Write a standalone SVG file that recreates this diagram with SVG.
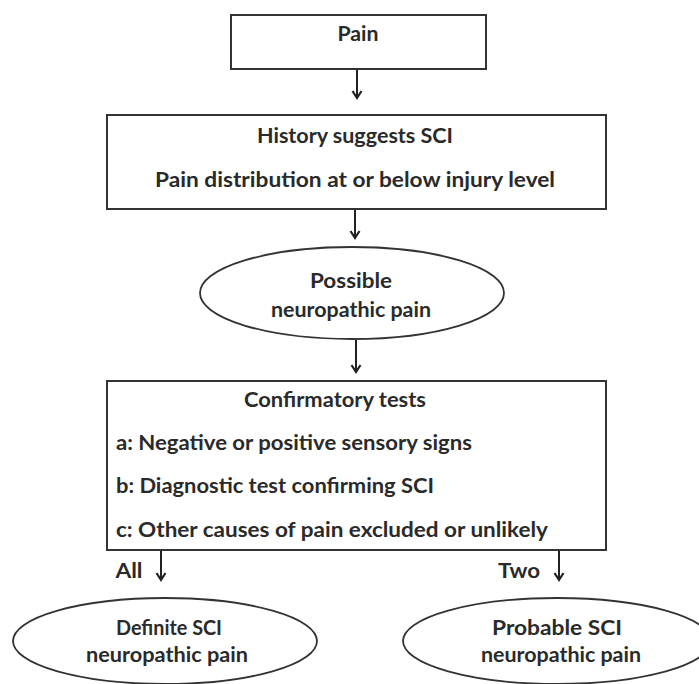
<svg xmlns="http://www.w3.org/2000/svg" width="699" height="684" viewBox="0 0 699 684">
<style>
.box{fill:#fff;stroke:#333;stroke-width:2}
.ell{fill:#fff;stroke:#333;stroke-width:1.8}
.t{font-family:Lato,"Liberation Sans",sans-serif;font-size:20.5px;font-weight:bold;fill:#2a2a2a;text-anchor:middle}
.l{text-anchor:start}
.c{stroke:#222;stroke-width:2;fill:none}
</style>
<defs>
<marker id="ah" markerWidth="12" markerHeight="12" refX="9" refY="6" orient="auto" markerUnits="userSpaceOnUse" viewBox="0 0 12 12">
<path d="M2,1.5 L9,6 L2,10.5" fill="none" stroke="#222" stroke-width="2.2"/>
</marker>
</defs>
<rect width="699" height="684" fill="#fff"/>
<g id="connectors">
<line class="c" x1="357" y1="69" x2="357" y2="98" marker-end="url(#ah)"/>
<line class="c" x1="355" y1="209" x2="355" y2="238" marker-end="url(#ah)"/>
<line class="c" x1="356" y1="340" x2="356" y2="372" marker-end="url(#ah)"/>
<line class="c" x1="161" y1="550" x2="161" y2="580" marker-end="url(#ah)"/>
<line class="c" x1="559" y1="550" x2="559" y2="580" marker-end="url(#ah)"/>
<text class="t" x="129" y="578" textLength="27" lengthAdjust="spacingAndGlyphs">All</text>
<text class="t" x="519" y="578" textLength="42" lengthAdjust="spacingAndGlyphs">Two</text>
</g>
<g id="pain">
<rect class="box" x="231" y="15" width="255" height="54"/>
<text class="t" x="358" y="41" textLength="41" lengthAdjust="spacingAndGlyphs">Pain</text>
</g>
<g id="history">
<rect class="box" x="107" y="115" width="499" height="94"/>
<text class="t" x="355" y="143" textLength="196" lengthAdjust="spacingAndGlyphs">History suggests SCI</text>
<text class="t" x="355" y="187" textLength="400" lengthAdjust="spacingAndGlyphs">Pain distribution at or below injury level</text>
</g>
<g id="possible">
<ellipse class="ell" cx="352" cy="293" rx="152" ry="46"/>
<text class="t" x="351" y="288" textLength="82" lengthAdjust="spacingAndGlyphs">Possible</text>
<text class="t" x="351" y="317" textLength="160" lengthAdjust="spacingAndGlyphs">neuropathic pain</text>
</g>
<g id="confirmatory">
<rect class="box" x="107" y="381" width="499" height="169"/>
<text class="t" x="335" y="407" textLength="182" lengthAdjust="spacingAndGlyphs">Confirmatory tests</text>
<text class="t l" x="116" y="450" textLength="356" lengthAdjust="spacingAndGlyphs">a: Negative or positive sensory signs</text>
<text class="t l" x="116" y="493" textLength="318" lengthAdjust="spacingAndGlyphs">b: Diagnostic test confirming SCI</text>
<text class="t l" x="116" y="537" textLength="432" lengthAdjust="spacingAndGlyphs">c: Other causes of pain excluded or unlikely</text>
</g>
<g id="definite">
<ellipse class="ell" cx="165" cy="641" rx="152" ry="43"/>
<text class="t" x="169" y="635" textLength="106" lengthAdjust="spacingAndGlyphs">Definite SCI</text>
<text class="t" x="167" y="662" textLength="162" lengthAdjust="spacingAndGlyphs">neuropathic pain</text>
</g>
<g id="probable">
<ellipse class="ell" cx="557" cy="641" rx="154" ry="43"/>
<text class="t" x="557" y="635" textLength="130" lengthAdjust="spacingAndGlyphs">Probable SCI</text>
<text class="t" x="561" y="662" textLength="160" lengthAdjust="spacingAndGlyphs">neuropathic pain</text>
</g>
</svg>
